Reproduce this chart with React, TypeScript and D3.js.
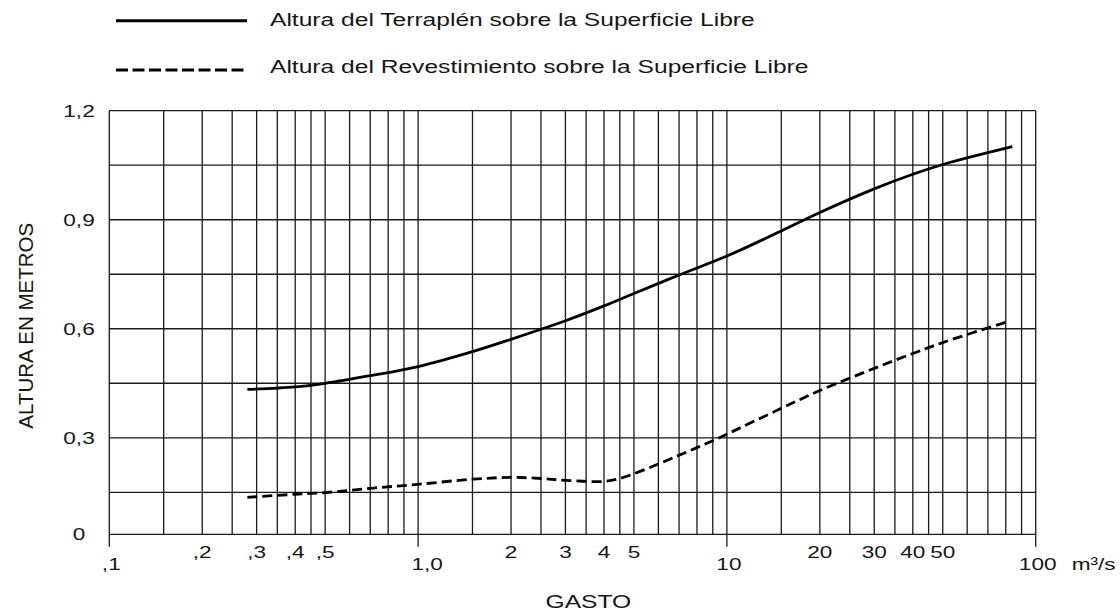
import React from 'react';
import * as d3 from 'd3';

// Curva del terraplén (línea continua)
const gastoTerraplen = [0.28, 0.4, 0.5, 0.7, 1.0, 1.5, 2, 3, 4, 5, 7, 10, 15, 20, 30, 40, 50, 84];
const alturaTerraplen = [0.433, 0.44, 0.45, 0.471, 0.496, 0.537, 0.571, 0.622, 0.663, 0.697, 0.748, 0.8, 0.869, 0.92, 0.985, 1.025, 1.052, 1.101];

// Curva del revestimiento (línea discontinua)
const gastoRevest = [0.28, 0.4, 0.5, 0.7, 1.0, 1.5, 2, 2.5, 3, 4, 4.5, 5, 6, 7, 8, 9, 10, 15, 20, 30, 40, 50, 80];
const alturaRevest = [0.132, 0.143, 0.149, 0.161, 0.172, 0.186, 0.191, 0.188, 0.183, 0.18, 0.188, 0.201, 0.228, 0.252, 0.273, 0.292, 0.31, 0.381, 0.43, 0.491, 0.532, 0.562, 0.618];

// Rejilla
const decades = [0.1, 1, 10];
const gridMult = [1, 1.5, 2, 2.5, 3, 3.5, 4, 4.5, 5, 6, 7, 8, 9];
const yGrid = [0, 0.15, 0.3, 0.45, 0.6, 0.75, 0.9, 1.05, 1.2];

// Etiquetas
const yTickValues = [0, 0.3, 0.6, 0.9, 1.2];
const yTickText = ['0', '0,3', '0,6', '0,9', '1,2'];
const lowerTickValues = [0.1, 1, 10, 100];
const lowerTickText = [',1', '1,0', '10', '100'];
const upperTickValues = [0.2, 0.3, 0.4, 0.5, 2, 3, 4, 5, 20, 30, 40, 50];
const upperTickText = [',2', ',3', ',4', ',5', '2', '3', '4', '5', '20', '30', '40', '50'];

const FONT = '"Liberation Sans", Arial, sans-serif';
const SX = 1.33; // estiramiento horizontal del texto
const INK = '#161616';

export default function App() {
  const width = 1120;
  const height = 615;
  const left = 109.3, right = 1035.7, top = 110.7, bottom = 534.3;

  const x = d3.scaleLog().domain([0.1, 100]).range([left, right]);
  // el tramo 0-0,15 está más comprimido en el original
  const y = d3.scaleLinear().domain([0, 0.15, 1.2]).range([bottom, 492.3, top]);

  const xGrid: number[] = [];
  decades.forEach(d => gridMult.forEach(m => xGrid.push(+(d * m).toPrecision(3))));
  xGrid.push(100);

  const line = d3.line<[number, number]>()
    .x(d => x(d[0]))
    .y(d => y(d[1]))
    .curve(d3.curveCatmullRom.alpha(0.5));

  const terraplen = line(gastoTerraplen.map((g, i) => [g, alturaTerraplen[i]] as [number, number])) || '';
  const revest = line(gastoRevest.map((g, i) => [g, alturaRevest[i]] as [number, number])) || '';

  const stretched = (tx: number, ty: number) => `translate(${tx},${ty}) scale(${SX},1)`;

  return (
    <svg width={width} height={height} style={{ position: 'absolute', left: 0, top: 0, background: '#fff' }}
      fontFamily={FONT}>
      {/* leyenda */}
      <line x1={116} x2={247} y1={20.7} y2={20.7} stroke="#000" strokeWidth={3} />
      <text transform={stretched(270, 25.7)} fontSize={18.5} fill={INK}>Altura del Terraplén sobre la Superficie Libre</text>
      <line x1={116} x2={247} y1={70} y2={70} stroke="#000" strokeWidth={3} strokeDasharray="12,4.5" />
      <text transform={stretched(270, 73.3)} fontSize={18.5} fill={INK}>Altura del Revestimiento sobre la Superficie Libre</text>

      {/* rejilla */}
      <g stroke="#1a1a1a" strokeWidth={1.3}>
        {xGrid.map(v => (
          <line key={'vx' + v} x1={x(v)} x2={x(v)} y1={top} y2={bottom} />
        ))}
        {yGrid.map(v => (
          <line key={'hy' + v} x1={left} x2={right} y1={y(v)} y2={y(v)} />
        ))}
        {lowerTickValues.map(v => (
          <line key={'mt' + v} x1={x(v)} x2={x(v)} y1={bottom} y2={bottom + 12.5} />
        ))}
      </g>

      {/* curvas */}
      <path d={terraplen} fill="none" stroke="#000" strokeWidth={2.8} />
      <path d={revest} fill="none" stroke="#000" strokeWidth={2.8} strokeDasharray="10,5" />

      {/* etiquetas eje y */}
      {yTickValues.map((v, i) => (
        <text key={'yt' + v} transform={stretched(79, y(v) + 6)} textAnchor="middle" fontSize={17} fill={INK}>
          {yTickText[i]}
        </text>
      ))}

      {/* etiquetas eje x */}
      {upperTickValues.map((v, i) => (
        <text key={'ut' + v} transform={stretched(x(v), 557.5)} textAnchor="middle" fontSize={17} fill={INK}>
          {upperTickText[i]}
        </text>
      ))}
      {lowerTickValues.map((v, i) => (
        <text key={'lt' + v} transform={stretched(x(v) + (v === 1 ? 9 : 2), 569.5)} textAnchor="middle" fontSize={17} fill={INK}>
          {lowerTickText[i]}
        </text>
      ))}
      <text transform={stretched(1071.7, 569.5)} fontSize={17} fill={INK}>m³/s</text>

      {/* títulos */}
      <text transform={stretched(588.4, 607.5)} textAnchor="middle" fontSize={18.5} fill={INK}>GASTO</text>
      <text transform={`translate(33,325.8) rotate(-90)`} textAnchor="middle" fontSize={20.5} fill={INK}>ALTURA EN METROS</text>
    </svg>
  );
}
